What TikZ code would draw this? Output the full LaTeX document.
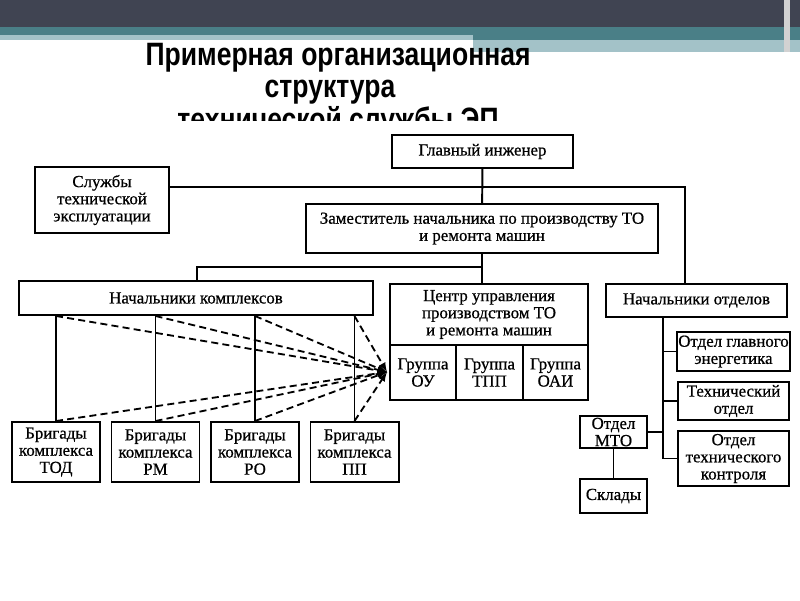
\documentclass[tikz,border=0pt]{standalone}
\usepackage{fontspec}
\setmainfont{Liberation Serif}
\newfontfamily\titlefont[FakeStretch=0.82]{Liberation Sans}
\newfontfamily\boxfont[FakeBold=0.7]{Liberation Serif}
\usepackage{tikz}
\usetikzlibrary{arrows,positioning,calc}

\definecolor{slidedark}{HTML}{404452}
\definecolor{slideteal}{HTML}{4A7F87}
\definecolor{slidelight}{HTML}{A3C2C8}

\tikzset{
  box/.style={draw,line width=1.4pt,align=center,inner sep=1pt,
    font=\boxfont\fontsize{12}{12.2}\selectfont},
  link/.style={line width=1.4pt},
  plink/.style={dash pattern=on 5pt off 3pt,line width=1.3pt,-latex},
  ttl/.style={anchor=base,inner sep=0pt,font=\titlefont\bfseries\fontsize{23}{24}\selectfont}
}

\begin{document}
\begin{tikzpicture}[x=0.025cm,y=-0.025cm]
      \useasboundingbox (0,0) rectangle (800,600);

      % slide header
      \fill[slidedark] (0,0) rectangle (800,27);
      \fill[slideteal] (0,27) rectangle (800,35);
      \fill[slidelight] (0,35) rectangle (473,40);
      \fill[slideteal] (473,35) rectangle (800,40);
      \fill[slidelight] (473,40) rectangle (800,52);
      \fill[gray!35] (784,0) rectangle (790,52);

      % title
      \node[ttl] (t1) at (338,65) {Примерная организационная};
      \node[ttl] (t2) at (330,97) {структура};
      \begin{scope}
        \clip (0,100) rectangle (800,120);
        \node[ttl] (t3) at (338,130) {технической службы ЭП};
      \end{scope}

      \coordinate (ch) at (482.5,151.5);
      \coordinate (sv) at (102,200);
      \coordinate (dp) at (482,228.5);
      \coordinate (hc) at (196,298);
      \coordinate (cu) at (489,314.5);
      \coordinate (hd) at (696.5,300.5);

      \node[box,minimum width=4.525cm,minimum height=0.825cm] (chief) at (ch) {Главный инженер};
      \node[box,minimum width=3.35cm,minimum height=1.65cm] (serv) at (sv) {Службы\\технической\\эксплуатации};
      \node[box,minimum width=8.8cm,minimum height=1.225cm] (deputy) at (dp) {Заместитель начальника по производству ТО\\и ремонта машин};
      \node[box,minimum width=8.85cm,minimum height=0.85cm] (hcomp) at (hc) {Начальники комплексов};
      \node[box,minimum width=4.95cm,minimum height=1.525cm] (center) at (cu) {Центр управления\\производством ТО\\и ремонта машин};
      \node[box,minimum width=4.525cm,minimum height=0.825cm] (hdept) at (hd) {Начальники отделов};

      % groups of the control centre
      \node[box,minimum width=1.65cm,minimum height=1.375cm] (gou) at (423,372.5) {Группа\\ОУ};
      \node[box,minimum width=1.675cm,minimum height=1.375cm] (gtpp) at (489.5,372.5) {Группа\\ТПП};
      \node[box,minimum width=1.625cm,minimum height=1.375cm] (goai) at (555.5,372.5) {Группа\\ОАИ};

      % departments
      \node[box,minimum width=2.775cm,minimum height=0.975cm] (energ) at (733.5,351.5) {Отдел главного\\энергетика};
      \node[box,minimum width=2.775cm,minimum height=0.95cm] (tech) at (733.5,401) {Технический\\отдел};
      \node[box,minimum width=2.775cm,minimum height=1.375cm] (ctrl) at (733.5,458.5) {Отдел\\технического\\контроля};
      \node[box,minimum width=1.675cm,minimum height=0.8cm] (mto) at (613.5,432) {Отдел\\МТО};
      \node[box,minimum width=1.675cm,minimum height=0.85cm] (store) at (613.5,496) {Склады};

      % brigades
      \node[box,minimum width=2.2cm,minimum height=1.5cm] (btod) at (56,452) {Бригады\\комплекса\\ТОД};
      \node[box,minimum width=2.2cm,minimum height=1.5cm] (brm) at (155.5,452) {Бригады\\комплекса\\РМ};
      \node[box,minimum width=2.2cm,minimum height=1.5cm] (bro) at (255,452) {Бригады\\комплекса\\РО};
      \node[box,minimum width=2.2cm,minimum height=1.5cm] (bpp) at (354.5,452) {Бригады\\комплекса\\ПП};

      \coordinate (busA) at (685,187);
      \coordinate (busB) at (197,267);
      \coordinate (busC) at (663,320);
      \coordinate (conv) at (387,372);

      \draw[link] (chief) -- (deputy);
      \draw[link] (serv.east|-busA) -- (busA) -- (busA|-hdept.north);
      \draw[link] (deputy.south) -- (deputy.south|-center.north);
      \draw[link] (busB|-hcomp.north) -- (busB) -- (deputy.south|-busB);
      \draw[link] (busC|-hdept.south) -- (busC|-ctrl.west);
      \draw[link] (busC|-energ.west) -- (energ.west);
      \draw[link] (busC|-tech.west) -- (tech.west);
      \draw[link] (busC|-ctrl.west) -- (ctrl.west);
      \draw[link] (mto.east) -- (busC|-mto.east);
      \draw[link] (mto) -- (store);

      \foreach \b in {btod,brm,bro,bpp} {
        \draw[link] (\b.north|-hcomp.south) -- (\b.north);
        \draw[plink] (\b.north|-hcomp.south) -- (conv);
        \draw[plink] (\b.north) -- (conv);
      }
\end{tikzpicture}
\end{document}
